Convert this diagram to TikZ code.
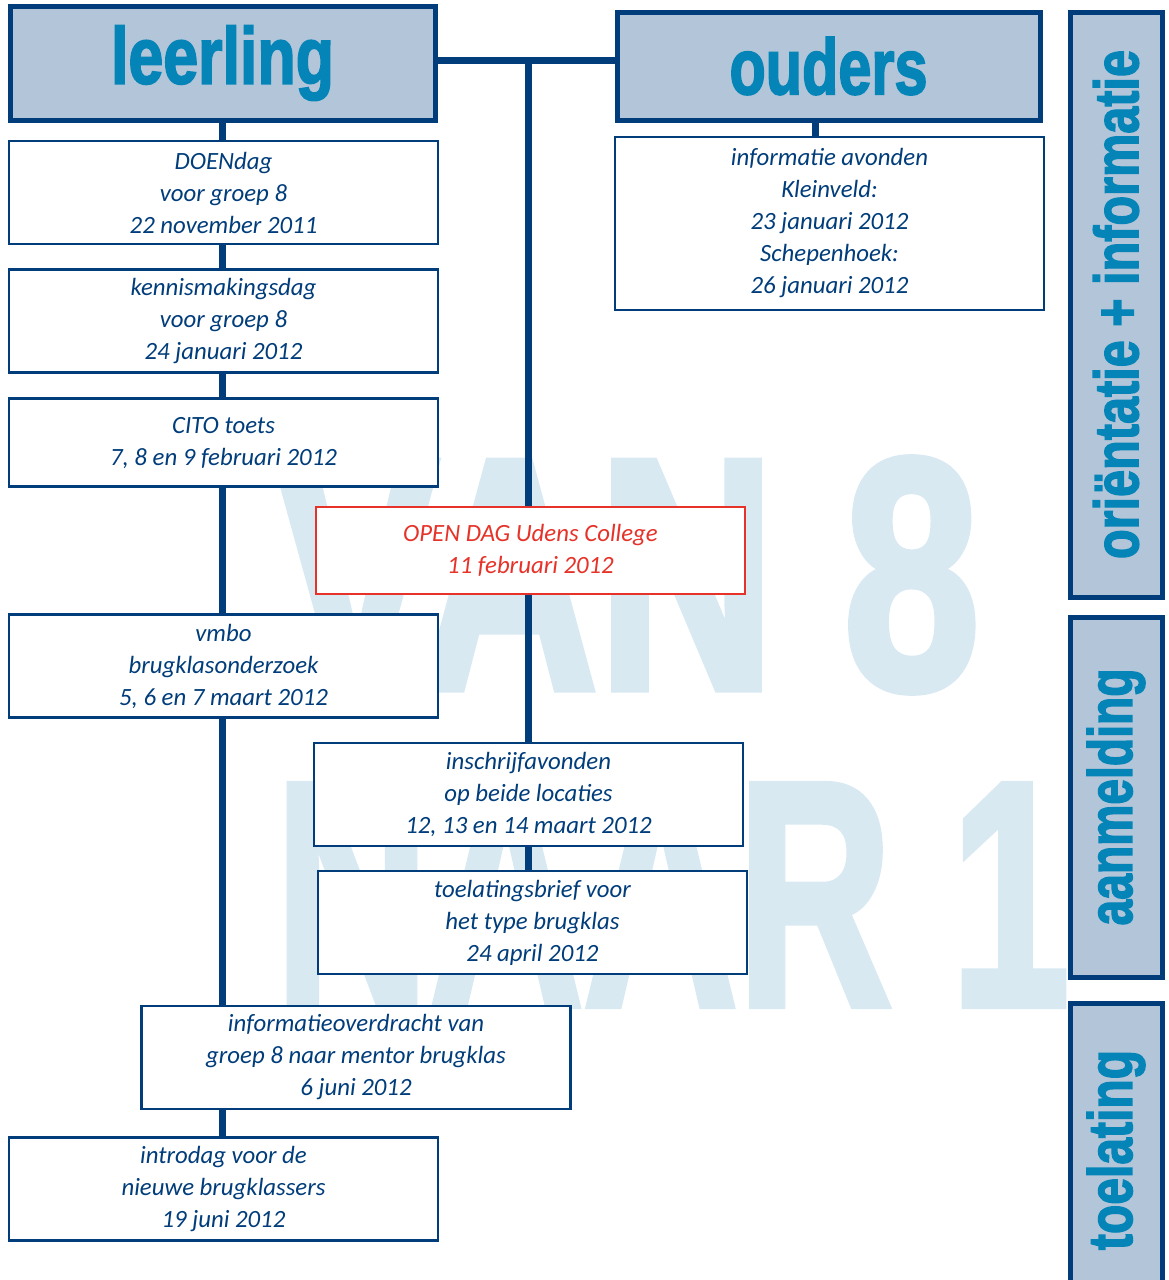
\documentclass[tikz,border=0pt]{standalone}
\usepackage{fontspec}
\usepackage{graphicx}
\setmainfont{Carlito}
\newfontfamily\headfont{Liberation Sans}[BoldFeatures={FakeBold=2.5}]
\usetikzlibrary{positioning,backgrounds}

\definecolor{navy}{RGB}{0,61,122}
\definecolor{headfill}{RGB}{179,197,216}
\definecolor{headtext}{RGB}{5,133,183}
\definecolor{wmark}{RGB}{216,233,242}
\definecolor{openred}{RGB}{230,50,40}

\begin{document}
\begin{tikzpicture}[x=0.5pt, y=-0.5pt, node distance=11.5pt]
	\tikzset{block/.style={draw=navy, line width=1.4pt, fill=white, rectangle, align=center, inner sep=0pt,
			minimum width=214.5pt, minimum height=51.5pt, text=navy, font=\itshape\fontsize{12.4}{16}\selectfont},
		redblock/.style={block, draw=openred, text=openred, minimum height=43.5pt},
		head/.style={draw=navy, line width=2.5pt, fill=headfill, inner sep=0pt, text=headtext},
		side/.style={head, minimum width=46pt},
		wtext/.style={inner sep=0pt, text=wmark},
		spine/.style={navy, line width=3.5pt}
	}
	\useasboundingbox (0,0) rectangle (1168,1280);

	% column headers
	\node [head, minimum width=212.5pt, minimum height=57pt] (leerling) at (222.5,63) {\raisebox{-2pt}{\resizebox{111.5pt}{29pt}{\headfont\bfseries leerling}}};
	\node [head, minimum width=211.5pt, minimum height=54pt] (ouders) at (828.5,66) {\raisebox{-2pt}{\resizebox{99pt}{28.5pt}{\headfont\bfseries ouders}}};

	% leerling
	\node [block] (doen) at (223.5,192.5) {DOENdag\\voor groep 8\\22 november 2011};
	\node [block, below=of doen] (kennis) {kennismakingsdag\\voor groep 8\\24 januari 2012};
	\node [block, below=of kennis, minimum height=44pt] (cito) {CITO toets\\7, 8 en 9 februari 2012};
	\node [redblock] (open) at (530.5,550.5) {OPEN DAG Udens College\\11 februari 2012};
	\node [block] (vmbo) at (223.5,666) {vmbo\\brugklasonderzoek\\5, 6 en 7 maart 2012};
	\node [block] (inschrijf) at (528.5,794.5) {inschrijfavonden\\op beide locaties\\12, 13 en 14 maart 2012};
	\node [block] (toelbrief) at (532.5,922.5) {toelatingsbrief voor\\het type brugklas\\24 april 2012};
	\node [block] (overdracht) at (356,1057.5) {informatieoverdracht van\\groep 8 naar mentor brugklas\\6 juni 2012};
	\node [block] (intro) at (223.5,1189) {introdag voor de\\nieuwe brugklassers\\19 juni 2012};

	% ouders
	\node [block, minimum height=86.5pt] (avonden) at (829.5,223.5) {informatie avonden\\Kleinveld:\\23 januari 2012\\Schepenhoek:\\26 januari 2012};

	% phases
	\node [side, minimum height=292.5pt] (orientatie) at (1116,304.5) {\rotatebox{90}{\resizebox{254.5pt}{22.5pt}{\headfont\bfseries oriëntatie + informatie}}};
	\node [side, minimum height=180pt] (aanmelding) at (1116,797) {\rotatebox{90}{\resizebox{128.5pt}{22.5pt}{\headfont\bfseries aanmelding}}};
	\node [side, minimum height=147pt] (toelating) at (1116,1150) {\rotatebox{90}{\resizebox{100pt}{22.5pt}{\headfont\bfseries toelating}}};

	\begin{scope}[on background layer]
		\node [wtext] (van) at (627.5,575) {\resizebox{352.5pt}{115pt}{\headfont\bfseries VAN 8}};
		\node [wtext] (naar) at (672.5,895) {\resizebox{397.5pt}{110pt}{\headfont\bfseries NAAR 1}};

		\coordinate (hub) at (528,60);
		\draw [spine] (leerling.east |- hub) -- (ouders.west |- hub);
		\draw [spine] (hub) -- (hub |- toelbrief.north);
		\draw [spine] (leerling) -- (leerling |- intro.north);
		\draw [spine] ([xshift=-6.5pt]ouders.south) -- ([xshift=-6.5pt]ouders.south |- avonden.north);
	\end{scope}
\end{tikzpicture}
\end{document}
